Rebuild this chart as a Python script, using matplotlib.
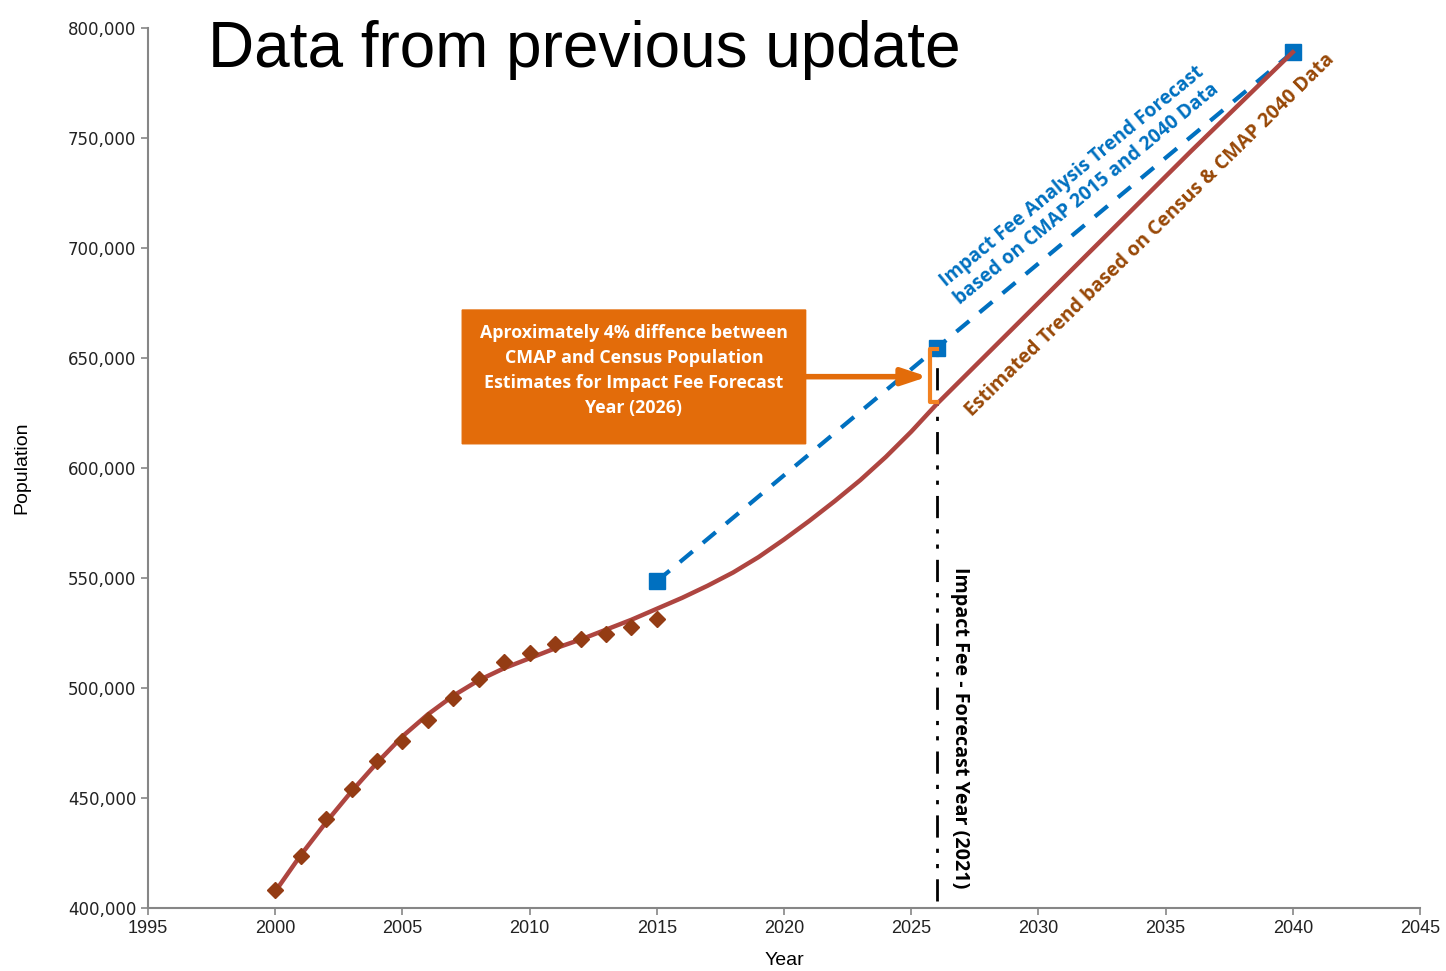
import matplotlib.pyplot as plt
from matplotlib.ticker import FuncFormatter
from matplotlib.patches import FancyBboxPatch

# census estimates (diamonds)
census_years = list(range(2000, 2016))
census_pop = [408000, 423600, 440400, 454100, 466800, 475900, 485500, 495500,
              504100, 511800, 515900, 520000, 522300, 524500, 527700, 531400]

# estimated trend line
trend_years = [2000, 2001, 2002, 2003, 2004, 2005, 2006, 2007, 2008, 2009, 2010,
               2011, 2012, 2013, 2014, 2015, 2016, 2017, 2018, 2019, 2020, 2021,
               2022, 2023, 2024, 2025, 2026, 2028, 2030, 2032, 2034, 2036, 2038, 2040]
trend_pop = [407500, 424000, 439000, 453000, 466000, 478000, 488000, 496500,
             503500, 509000, 513500, 518000, 522000, 526500, 531000, 536000,
             541000, 546500, 552500, 559500, 567500, 576000, 585000, 594500,
             605000, 616500, 629000, 652000, 675000, 698000, 721000, 744000,
             766500, 789000]

# CMAP based forecast (squares)
cmap_years = [2015, 2026, 2040]
cmap_pop = [548500, 654500, 789000]

forecast_year = 2026

plt.rcParams['font.family'] = ['Liberation Sans', 'DejaVu Sans']
bold_font = ['Open Sans', 'DejaVu Sans']

fig = plt.figure(figsize=(14.46, 9.71), dpi=100)
ax = fig.add_axes([0.1024, 0.0649, 0.8796, 0.9063])

ax.plot(cmap_years, cmap_pop, color='#0070C0', lw=3, dashes=(4, 3.2),
        marker='s', ms=12, mec='#0070C0', mfc='#0070C0', zorder=3)
ax.plot(trend_years, trend_pop, color='#AE4540', lw=3.2, zorder=4,
        solid_joinstyle='round')
ax.plot(census_years, census_pop, ls='none', marker='D', ms=8,
        color='#943C14', zorder=5)

# forecast year line
ax.plot([forecast_year, forecast_year], [403000, 654000], color='black',
        lw=2, dashes=(8, 4, 1.5, 4, 1.5, 4), zorder=2)

# orange bracket
bx = 2025.75
ax.plot([forecast_year, bx, bx, forecast_year], [654000, 654000, 630000, 630000],
        color='#F28120', lw=3, zorder=6, solid_joinstyle='round')
ax.annotate('', xy=(bx - 0.1, 641500), xytext=(2020.8, 641500),
            arrowprops=dict(arrowstyle='-|>,head_length=1.5,head_width=0.5',
                            color='#E36C0A', lw=4, shrinkA=0, shrinkB=0))

# orange text box
box = FancyBboxPatch((2007.35, 611000), 13.5, 60800,
                     boxstyle='round,pad=0,rounding_size=0.1',
                     fc='#E36C0A', ec='#E36C0A', zorder=6)
ax.add_patch(box)
ax.text(2014.1, 644300, 'Aproximately 4% diffence between\nCMAP and Census Population\n'
        'Estimates for Impact Fee Forecast\nYear (2026)', color='white',
        fontsize=12.8, fontweight='bold', family=bold_font,
        ha='center', va='center', linespacing=1.5, zorder=7)

ax.text(2031.6, 728600, 'Impact Fee Analysis Trend Forecast\nbased on CMAP 2015 and 2040 Data',
        color='#0070C0', fontsize=13.8, fontweight='bold', family=bold_font,
        rotation=39.5, ha='center', va='center', rotation_mode='anchor', linespacing=1.2)
ax.text(2034.4, 706000, 'Estimated Trend based on Census & CMAP 2040 Data',
        color='#984807', fontsize=14.0, fontweight='bold', family=bold_font,
        rotation=44.5, ha='center', va='center', rotation_mode='anchor')
ax.text(2026.9, 482000, 'Impact Fee - Forecast Year (2021)', color='black',
        fontsize=14.2, fontweight='bold', family=bold_font,
        rotation=-90, ha='center', va='center')

fig.text(0.144, 0.948, 'Data from previous update', fontsize=46, ha='left', va='center')

ax.set_xlim(1995, 2045)
ax.set_ylim(400000, 800000)
ax.set_xticks(range(1995, 2046, 5))
ax.set_yticks(range(400000, 800001, 50000))
ax.yaxis.set_major_formatter(FuncFormatter(lambda v, p: f'{int(v):,}'))
ax.tick_params(colors='#868686', labelcolor='#222222', length=5, width=1.2, labelsize=13)
for lab in ax.get_yticklabels():
    lab.set_family(['DejaVu Sans'])
    lab.set_fontsize(12)
for s in ['top', 'right']:
    ax.spines[s].set_visible(False)
for s in ['left', 'bottom']:
    ax.spines[s].set_color('#868686')
    ax.spines[s].set_linewidth(1.5)

ax.set_xlabel('Year', fontsize=14, labelpad=11)
ax.set_ylabel('Population', fontsize=14, labelpad=27)

fig.savefig('out.png', dpi=100)
